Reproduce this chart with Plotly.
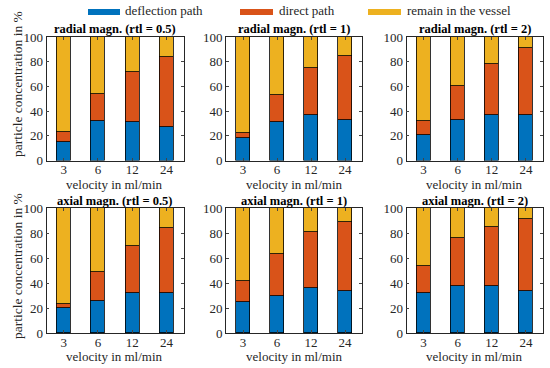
import plotly.graph_objects as go

velocities = ["3", "6", "12", "24"]
titles = ["radial magn. (rtl = 0.5)", "radial magn. (rtl = 1)", "radial magn. (rtl = 2)",
          "axial magn. (rtl = 0.5)", "axial magn. (rtl = 1)", "axial magn. (rtl = 2)"]
series_names = ["deflection path", "direct path", "remain in the vessel"]
x_title = "velocity in ml/min"
y_title = "particle concentration in %"

deflection = [
    [15, 32, 31, 27.5],
    [18, 31, 37, 33],
    [21, 33, 37, 37],
    [20, 26, 32, 32],
    [25, 30, 36, 34],
    [32, 38, 38, 34],
]
direct = [
    [8, 22, 41, 56.5],
    [4, 22, 38, 52],
    [11, 27, 41, 54],
    [3, 23, 38, 52],
    [17, 33, 45, 55],
    [22, 38, 47, 57],
]
remain = [
    [77, 46, 28, 16],
    [78, 47, 25, 15],
    [68, 40, 22, 9],
    [77, 51, 30, 16],
    [58, 37, 19, 11],
    [46, 24, 15, 9],
]
y_ticks = [0, 20, 40, 60, 80, 100]

colors = ["#0072BD", "#D95319", "#EDB120"]
FONT = "Liberation Serif"
TXT = "#262626"
W, H = 550, 368
xdom = [(46.5, 183.5), (226, 362), (406.5, 543)]
ydom = [(37, 160.5), (208, 333)]
xtitle_y = [184.5, 356]
title_bottom = [37, 208.5]
ytitle_center = [84, 266]

fig = go.Figure()
xpos = [1, 2, 3, 4]
for i in range(6):
    r, c = divmod(i, 3)
    sfx = "" if i == 0 else str(i + 1)
    for k, vals in enumerate([deflection[i], direct[i], remain[i]]):
        fig.add_trace(go.Bar(
            x=xpos, y=vals, name=series_names[k], width=0.41,
            marker=dict(color=colors[k], line=dict(color="black", width=0.8)),
            xaxis="x" + sfx, yaxis="y" + sfx, showlegend=False))
    x0, x1 = xdom[c]
    y0, y1 = ydom[r]
    fig.layout["xaxis" + sfx] = dict(
        domain=[x0 / W, x1 / W], anchor="y" + sfx, range=[0.5, 4.5], automargin=False,
        tickvals=xpos, ticktext=velocities, ticks="inside", ticklen=3, ticklabelstandoff=-3,
        showline=True, mirror="ticks", linecolor=TXT, linewidth=0.8,
        showgrid=False, zeroline=False, tickfont=dict(family=FONT, size=13, color=TXT))
    fig.layout["yaxis" + sfx] = dict(
        domain=[1 - y1 / H, 1 - y0 / H], anchor="x" + sfx, range=[0, 100], automargin=False,
        tickvals=y_ticks, ticks="inside", ticklen=3,
        showline=True, mirror="ticks", linecolor=TXT, linewidth=0.8,
        showgrid=False, zeroline=False, tickfont=dict(family=FONT, size=13, color=TXT))
    fig.add_annotation(text="<b>" + titles[i] + "</b>", xref="paper", yref="paper",
                       x=(x0 + x1) / 2 / W, y=1 - title_bottom[r] / H, xanchor="center", yanchor="bottom",
                       showarrow=False, borderpad=0, font=dict(family=FONT, size=12.5, color="black"))
    fig.add_annotation(text=x_title, xref="paper", yref="paper",
                       x=(x0 + x1) / 2 / W, y=1 - xtitle_y[r] / H, xanchor="center", yanchor="middle",
                       showarrow=False, borderpad=0, font=dict(family=FONT, size=13, color=TXT))

for r in range(2):
    fig.add_annotation(text=y_title, xref="paper", yref="paper",
                       x=17 / W, y=1 - ytitle_center[r] / H, textangle=-90,
                       xanchor="center", yanchor="middle", showarrow=False, borderpad=0,
                       font=dict(family=FONT, size=13.5, color=TXT))

# legend
leg = [(88, 120, 124), (240, 273, 278), (368, 401, 406)]
for k, (a, b, t) in enumerate(leg):
    fig.add_shape(type="rect", xref="paper", yref="paper", x0=a / W, x1=b / W,
                  y0=1 - 15 / H, y1=1 - 9 / H, fillcolor=colors[k], line=dict(width=0))
    fig.add_annotation(text=series_names[k], xref="paper", yref="paper", x=t / W, y=1 - 11 / H,
                       xanchor="left", yanchor="middle", showarrow=False, borderpad=0,
                       font=dict(family=FONT, size=13, color=TXT))

fig.update_layout(width=W, height=H, margin=dict(l=0, r=0, t=0, b=0),
                  barmode="stack", bargap=0, plot_bgcolor="white", paper_bgcolor="white",
                  showlegend=False)
fig.write_html("out.html", config={"displayModeBar": False},
               post_script="document.body.style.margin='0';document.body.style.overflow='hidden';")
